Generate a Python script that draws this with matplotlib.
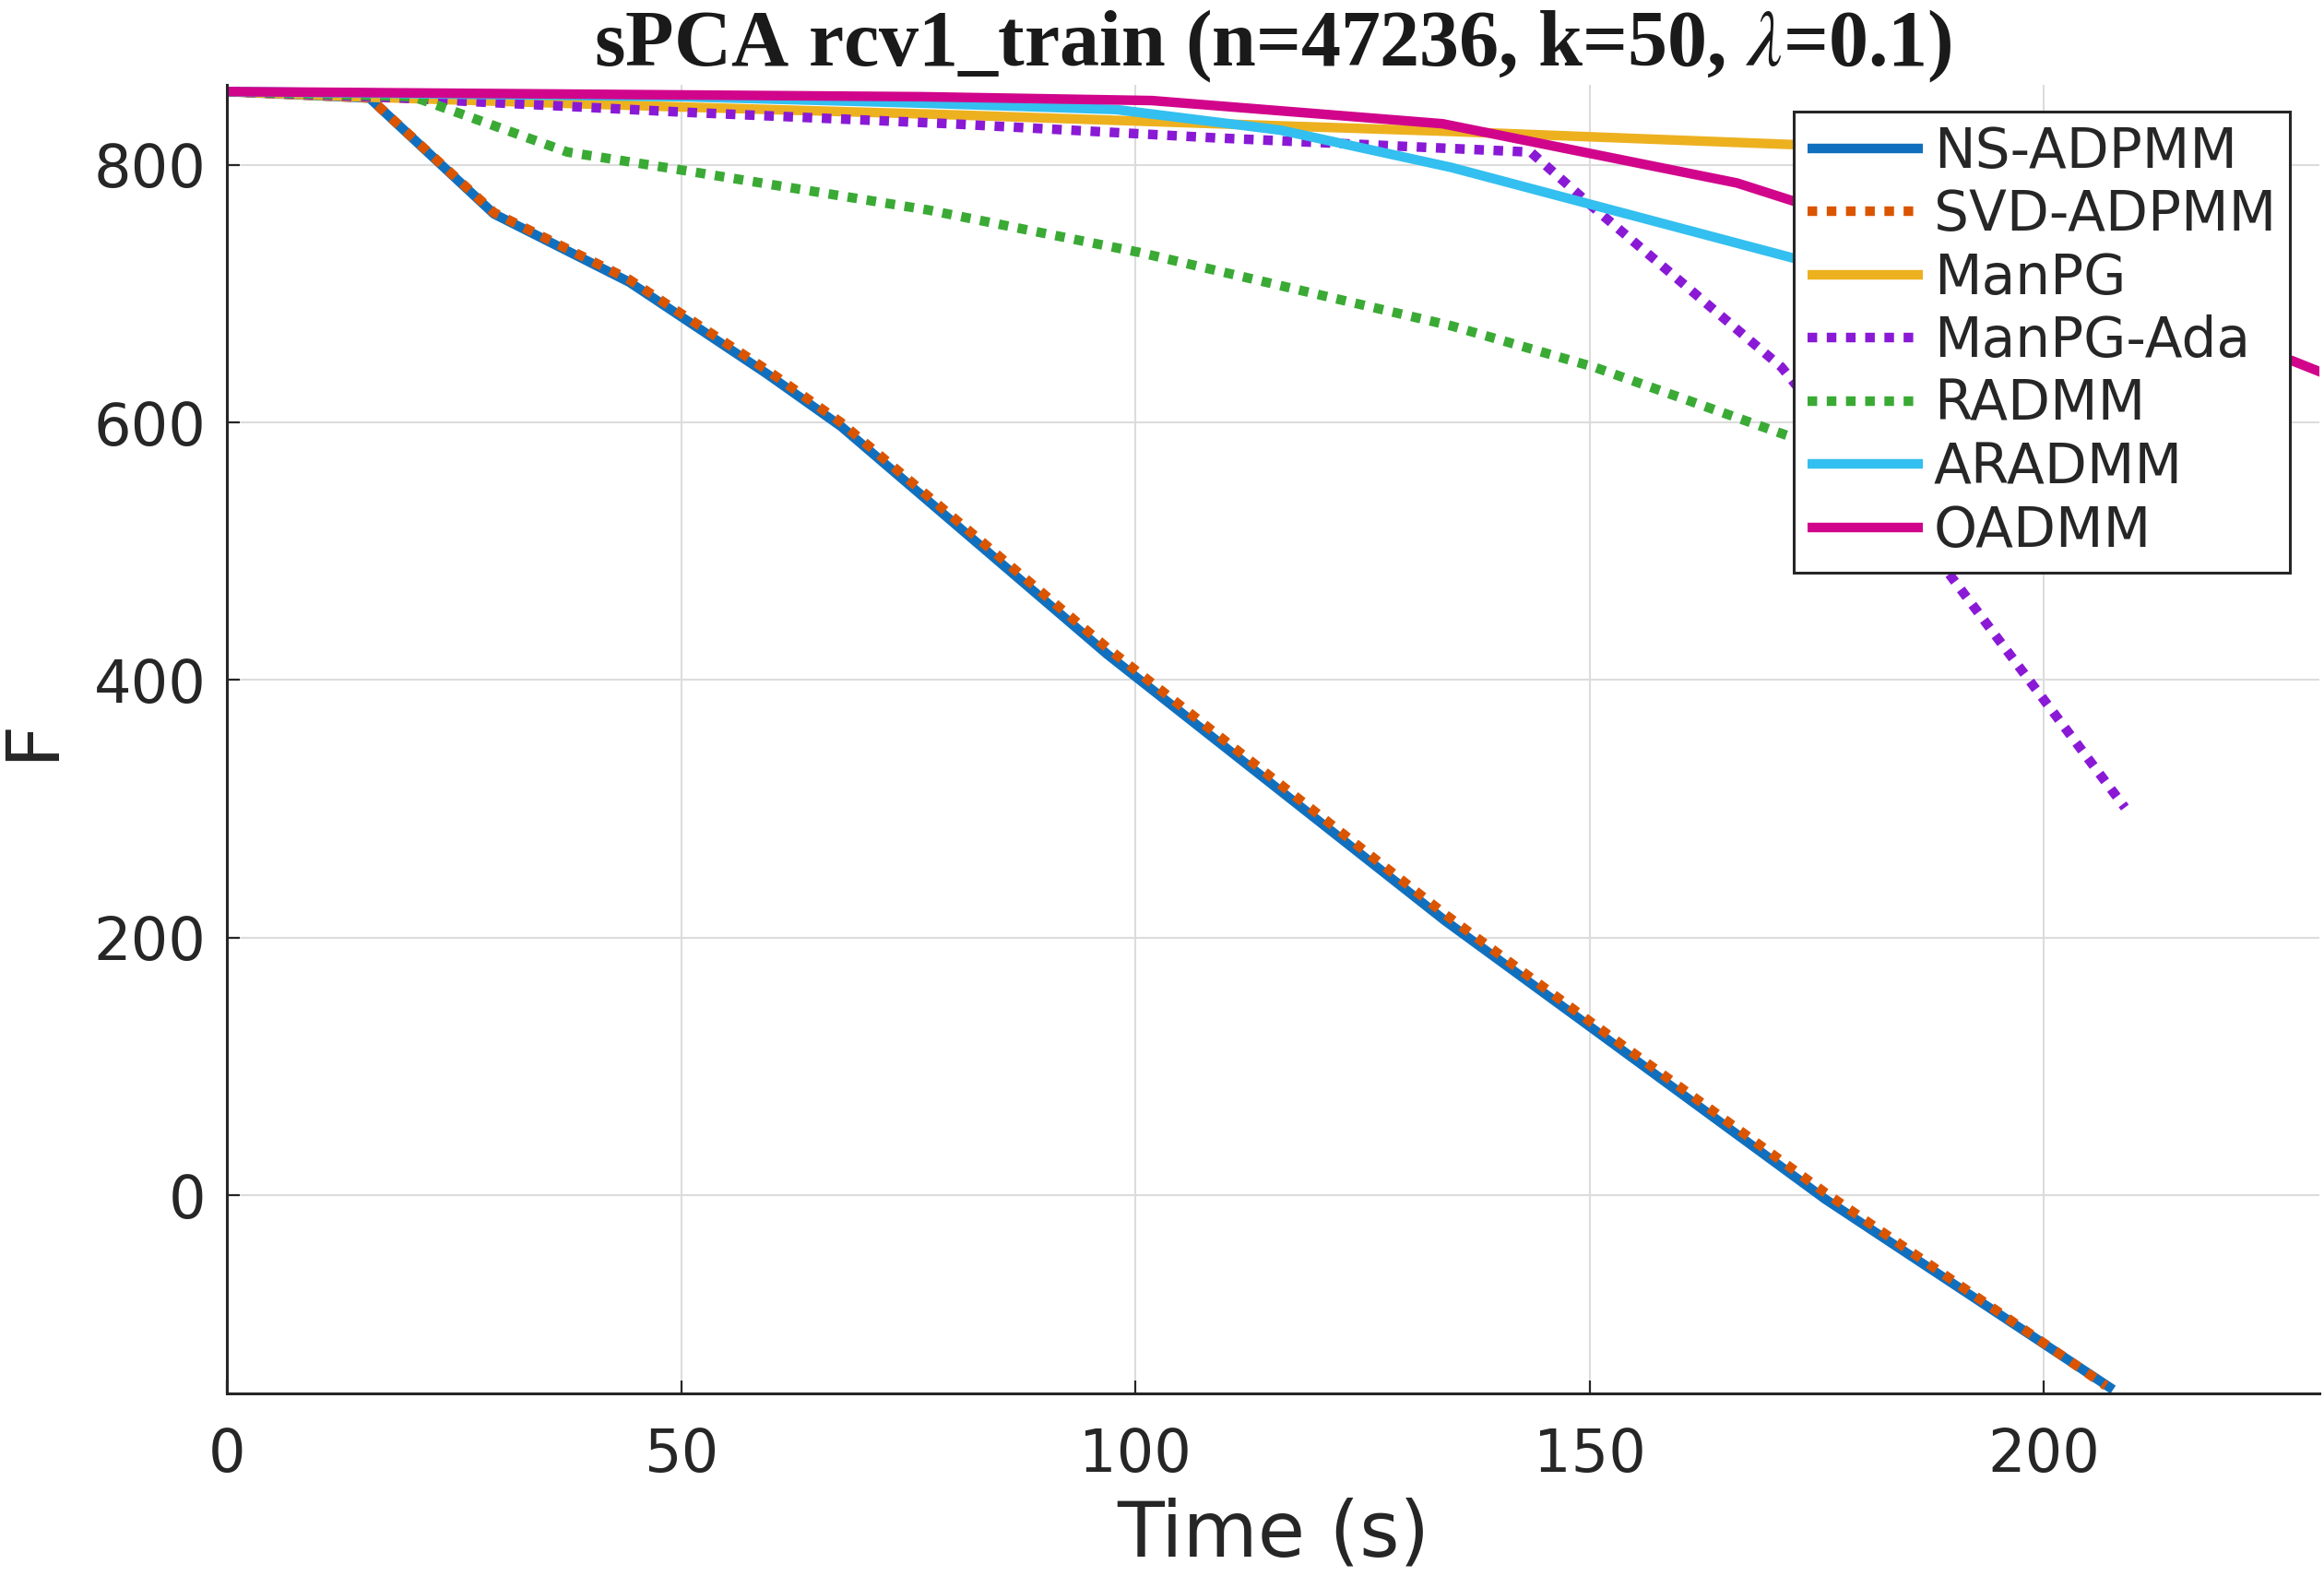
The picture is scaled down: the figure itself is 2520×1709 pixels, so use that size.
import numpy as np
import matplotlib
matplotlib.use('Agg')
import matplotlib.pyplot as plt

plt.rcParams['font.family'] = ['DejaVu Sans']
plt.rcParams['mathtext.fontset'] = 'stix'

# ---- data: time (s) vs objective F ----
t_ns = [0, 15.7, 29.4, 44.3, 59.4, 67.6, 96.9, 134.1, 150.0, 175.9, 207.6]
f_ns = [857, 852, 762, 709, 638, 597, 420, 213, 131, -3, -151]

t_svd = [0, 15.7, 29.4, 44.3, 59.4, 67.6, 96.9, 134.1, 150.0, 175.9, 206.8]
f_svd = [857, 852, 763, 711, 641, 600, 425, 218, 135, 2, -148]

t_manpg = [0, 13.9, 50.1, 79.6, 108.9, 134.8, 171.7, 207.0]
f_manpg = [857, 853, 845, 839, 832, 826, 816, 808]

t_ada = [0, 19.1, 50.2, 79.6, 108.9, 143.5, 150.4, 171.1, 189.6, 200.7, 208.9]
f_ada = [857, 852, 841, 832, 821, 810, 767, 643, 482, 378, 301]

t_radmm = [0, 20.5, 37.5, 50.1, 77.2, 100.5, 134.8, 150.5, 171.7, 205.0]
f_radmm = [857, 853, 810, 796, 765, 732, 675, 643, 590, 500]

t_aradmm = [0, 50.0, 76.5, 97.9, 116.0, 134.8, 171.7, 205.0]
f_aradmm = [857, 853, 848, 843, 827, 798, 729, 665]

t_oadmm = [0, 76.5, 101.8, 133.8, 166.2, 227.3, 230.5]
f_oadmm = [857, 853, 850, 832, 786, 648, 639]

labels = ['NS-ADPMM', 'SVD-ADPMM', 'ManPG', 'ManPG-Ada', 'RADMM', 'ARADMM', 'OADMM']
colors = ['#1170BE', '#DB5500', '#EDB120', '#8A19D6', '#3AAA35', '#33BFEF', '#D1058B']
styles = ['-', (0, (1, 1)), '-', (0, (1, 1)), (0, (1, 1)), '-', '-']

series = [(t_ns, f_ns), (t_svd, f_svd), (t_manpg, f_manpg), (t_ada, f_ada),
          (t_radmm, f_radmm), (t_aradmm, f_aradmm), (t_oadmm, f_oadmm)]

fig = plt.figure(figsize=(25.2, 17.09), dpi=100)
ax = fig.add_axes([0.0976, 0.1158, 0.9004, 0.8302])

for (t, f), lab, c, ls in zip(series, labels, colors, styles):
    ax.plot(t, f, color=c, linestyle=ls, linewidth=7.5, label=lab,
            solid_capstyle='butt', dash_capstyle='butt')

ax.set_xlim(0, 230.3)
ax.set_ylim(-154, 862)
ax.set_xticks([0, 50, 100, 150, 200])
ax.set_yticks([0, 200, 400, 600, 800])

ax.grid(True, color='#dcdcdc', linewidth=1.5)
ax.set_axisbelow(True)
for s in ['top', 'right']:
    ax.spines[s].set_visible(False)
for s in ['left', 'bottom']:
    ax.spines[s].set_linewidth(2.2)
    ax.spines[s].set_color('#262626')

ax.tick_params(axis='both', direction='in', length=10, width=1.6,
               colors='#262626', labelsize=46)
ax.tick_params(axis='x', pad=26)
ax.tick_params(axis='y', pad=16)

ax.set_xlabel('Time (s)', fontsize=60, color='#262626', labelpad=10)
ax.set_ylabel('F', fontsize=58, color='#262626', labelpad=20)
ax.set_title(r'sPCA rcv1_train (n=47236, k=50, $\lambda$=0.1)',
             fontsize=62, fontweight='bold', family='Liberation Serif',
             color='#1a1a1a', pad=14)

leg = ax.legend(loc='upper right', bbox_to_anchor=(0.986, 0.980), borderaxespad=0,
                fontsize=43, handlelength=2.1, handletextpad=0.2,
                labelspacing=0.16, borderpad=0.25, fancybox=False, framealpha=1)
leg.get_frame().set_edgecolor('#262626')
leg.get_frame().set_linewidth(2.2)
for txt in leg.get_texts():
    txt.set_color('#262626')

fig.savefig('out.png', dpi=100)
